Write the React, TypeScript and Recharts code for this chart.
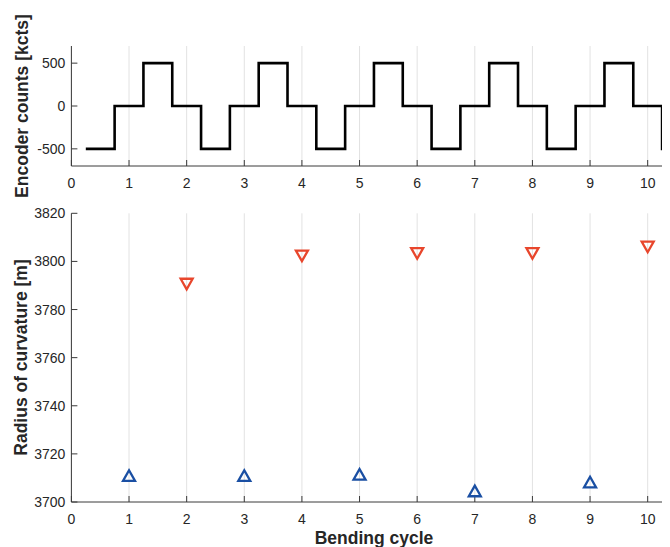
import { LineChart, Line, ScatterChart, Scatter, XAxis, YAxis, CartesianGrid } from "recharts";

const FONT = '"Liberation Sans", Arial, Helvetica, sans-serif';

const cycleTicks = [0, 1, 2, 3, 4, 5, 6, 7, 8, 9, 10];
const countTicks = [-500, 0, 500];
const radiusTicks = [3700, 3720, 3740, 3760, 3780, 3800, 3820];

// encoder steps: each value holds until the next time
const stepTimes = [0.25, 0.75, 1.25, 1.75, 2.25, 2.75, 3.25, 3.75, 4.25, 4.75, 5.25, 5.75, 6.25, 6.75, 7.25, 7.75, 8.25, 8.75, 9.25, 9.75, 10.25, 10.5];
const stepCounts = [-500, 0, 500, 0, -500, 0, 500, 0, -500, 0, 500, 0, -500, 0, 500, 0, -500, 0, 500, 0, -500, -500];

const upCycles = [1, 3, 5, 7, 9];
const upRadius = [3711, 3711, 3711.5, 3704.6, 3708.3];
const downCycles = [2, 4, 6, 8, 10];
const downRadius = [3790.6, 3802.3, 3803.3, 3803.3, 3806];

const encoderData = stepTimes.map((x, i) => ({ x, y: stepCounts[i] }));
const upData = upCycles.map((x, i) => ({ x, y: upRadius[i] }));
const downData = downCycles.map((x, i) => ({ x, y: downRadius[i] }));

const RED = "#e8462c";
const BLUE = "#1a4fa3";
const AXIS = "#3a3a3a";
const GRID = "#e2e2e2";

const tickStyle = { fill: "#262626", fontSize: 14, fontFamily: FONT };

const triangle = (color: string, up: boolean) => (props: any) => {
  const { cx, cy } = props;
  if (cx == null || cy == null) return <g />;
  const w = 6;
  const h = 5.3;
  const pts = up
    ? `${cx},${cy - h} ${cx + w},${cy + h} ${cx - w},${cy + h}`
    : `${cx - w},${cy - h} ${cx + w},${cy - h} ${cx},${cy + h}`;
  return <polygon points={pts} fill="none" stroke={color} strokeWidth={2.3} />;
};

// body margin puts the wrapper at (8, 8); everything below is relative to it
const W = 700;
const xDomain: [number, number] = [0, 10.5];

export default function App() {
  return (
    <div style={{ position: "relative", width: 662, height: 539, overflow: "hidden", background: "#fff" }}>
      <div style={{ position: "absolute", left: 0, top: 0 }}>
        <LineChart width={W} height={182} data={encoderData} margin={{ top: 38, right: 31.5, bottom: 0, left: 0 }}>
          <CartesianGrid horizontal={false} stroke={GRID} />
          <XAxis
            type="number"
            dataKey="x"
            domain={xDomain}
            ticks={cycleTicks}
            interval={0}
            height={24}
            tickSize={-6}
            tickMargin={18}
            stroke={AXIS}
            tick={tickStyle}
          />
          <XAxis xAxisId="top" orientation="top" type="number" domain={xDomain} ticks={cycleTicks} interval={0} height={0} tickSize={-6} tick={false} stroke={AXIS} />
          <YAxis
            type="number"
            domain={[-700, 700]}
            ticks={countTicks}
            interval={0}
            width={63.4}
            tickSize={-6}
            tickMargin={12}
            stroke={AXIS}
            tick={tickStyle}
          />
          <YAxis yAxisId="right" orientation="right" type="number" domain={[-700, 700]} ticks={countTicks} width={0} tickSize={-6} tick={false} stroke={AXIS} />
          <Line type="stepAfter" dataKey="y" stroke="#000" strokeWidth={2.6} dot={false} isAnimationActive={false} />
        </LineChart>
      </div>
      <div style={{ position: "absolute", left: 0, top: 182 }}>
        <ScatterChart width={W} height={336} margin={{ top: 23.3, right: 31.5, bottom: 0, left: 0 }}>
          <CartesianGrid horizontal={false} stroke={GRID} />
          <XAxis
            type="number"
            dataKey="x"
            domain={xDomain}
            ticks={cycleTicks}
            interval={0}
            height={24}
            tickSize={-6}
            tickMargin={18}
            stroke={AXIS}
            tick={tickStyle}
          />
          <XAxis xAxisId="top" orientation="top" type="number" domain={xDomain} ticks={cycleTicks} interval={0} height={0} tickSize={-6} tick={false} stroke={AXIS} />
          <YAxis
            type="number"
            dataKey="y"
            domain={[3700, 3820]}
            ticks={radiusTicks}
            interval={0}
            width={63.4}
            tickSize={-6}
            tickMargin={12}
            stroke={AXIS}
            tick={tickStyle}
          />
          <YAxis yAxisId="right" orientation="right" type="number" domain={[3700, 3820]} ticks={radiusTicks} width={0} tickSize={-6} tick={false} stroke={AXIS} />
          <Scatter data={upData} shape={triangle(BLUE, true)} isAnimationActive={false} />
          <Scatter data={downData} shape={triangle(RED, false)} isAnimationActive={false} />
        </ScatterChart>
      </div>
      <svg width={662} height={539} style={{ position: "absolute", left: 0, top: 0, pointerEvents: "none" }}>
        <g fontFamily={FONT} fontWeight="bold" fontSize={17.5} fill="#262626" textAnchor="middle">
          <text x={20} y={98} transform="rotate(-90 20 98)">Encoder counts [kcts]</text>
          <text x={19} y={349.5} transform="rotate(-90 19 349.5)">Radius of curvature [m]</text>
          <text x={366} y={535.5}>Bending cycle</text>
        </g>
      </svg>
    </div>
  );
}
